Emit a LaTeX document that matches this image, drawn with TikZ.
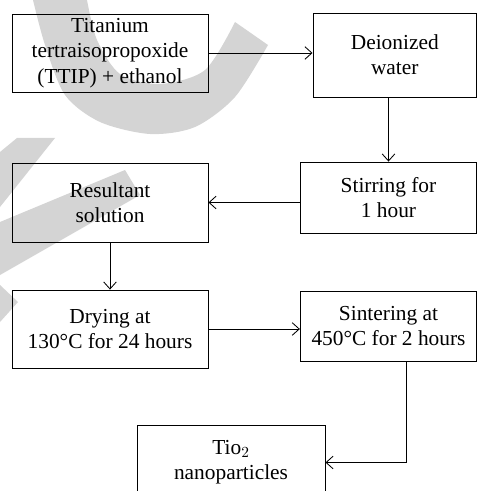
\documentclass[tikz,border=0pt]{standalone}
\usepackage{fontspec}
\setmainfont{Liberation Serif}
\usepackage{tikz}
\usetikzlibrary{arrows.meta}

\begin{document}
\begin{tikzpicture}[x=0.025cm,y=-0.025cm,
		>={Straight Barb[length=5pt,width=9pt]},
		box/.style={draw,line width=0.6pt,inner sep=0pt,align=center,
			font=\fontsize{15.2}{18}\selectfont},
		wmark/.style={fill=black!17}]
		\useasboundingbox (0,0) rectangle (478,491);
		% background mark
		\fill[wmark] plot[smooth] coordinates {(33,0) (45,45) (65,95) (100,122) (150,134) (195,127) (235,97) (268,45)}
			-- (235,22) -- plot[smooth] coordinates {(235,22) (205,70) (160,84) (120,74) (97,40) (87,0)} -- cycle;
		\fill[wmark] (17,138) -- (55,138) -- (0,207) -- (0,152) -- cycle;
		\fill[wmark] (0,222) -- (125,170) -- (140,195) -- (0,275) -- cycle;
		\fill[wmark] (0,285) -- (18,302) -- (0,322) -- cycle;
		% steps
		\node[box,minimum width=4.9cm,minimum height=1.95cm] (ttip) at (110,53) {Titanium\\tertraisopropoxide\\(TTIP) + ethanol};
		\node[box,minimum width=4.09cm,minimum height=2.1cm] (water) at (394.75,55) {Deionized\\water};
		\node[box,minimum width=4.41cm,minimum height=1.775cm] (stir) at (388.5,197.5) {Stirring for\\1 hour};
		\node[box,minimum width=4.9cm,minimum height=1.975cm] (sol) at (110,202.5) {Resultant\\solution};
		\node[box,minimum width=4.9cm,minimum height=1.95cm] (dry) at (110,329) {Drying at\\130°C for 24 hours};
		\node[box,minimum width=4.41cm,minimum height=1.75cm] (sinter) at (388.5,326) {Sintering at\\450°C for 2 hours};
		\node[box,minimum width=4.7cm,minimum height=1.875cm] (nano) at (231,462.5) {Tio$_2$\\nanoparticles};
		% arrows
		\draw[->,line width=0.6pt] (ttip) -- (ttip -| water.west);
		\draw[->,line width=0.6pt] (stir.north |- water.south) -- (stir.north);
		\draw[->,line width=0.6pt] (sol.east -| stir.west) -- (sol.east);
		\draw[->,line width=0.6pt] (sol) -- (dry);
		\draw[->,line width=0.6pt] (dry) -- (dry -| sinter.west);
		\draw[->,line width=0.6pt] ([xshift=0.46cm]sinter.south) |- (nano);
	\end{tikzpicture}
\end{document}
